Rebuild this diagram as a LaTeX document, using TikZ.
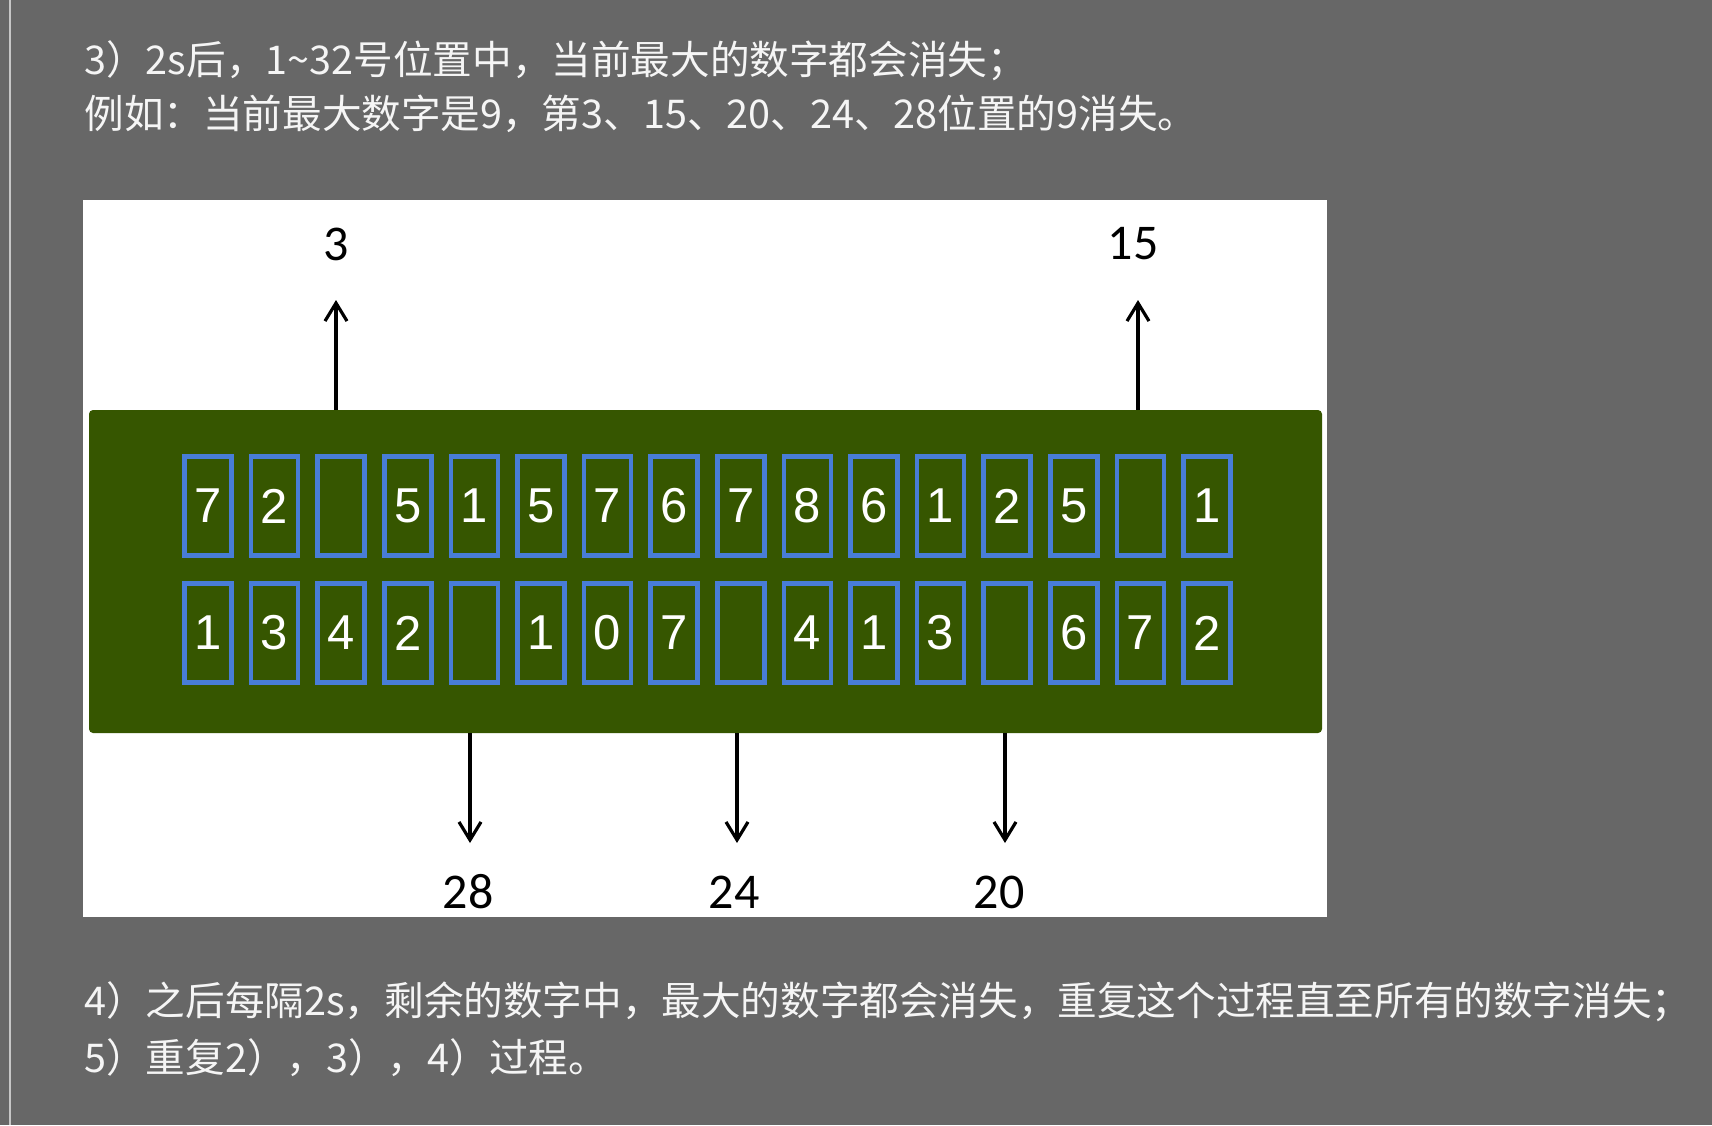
\documentclass[tikz,border=0pt]{standalone}
\usepackage{fontspec}
\setmainfont{Liberation Sans}
\newfontfamily\cjk{Noto Sans CJK SC}
\newfontfamily\lcdfont{Liberation Sans}
\newfontfamily\tagfont{Carlito}
\usetikzlibrary{positioning,arrows.meta}
\definecolor{bggray}{RGB}{103,103,103}
\definecolor{lcdgreen}{RGB}{54,86,0}
\definecolor{cellblue}{RGB}{72,125,215}
\definecolor{txtwhite}{RGB}{245,245,245}
\tikzset{
	cell/.style={draw=cellblue, line width=2.3pt, minimum width=23.5pt, minimum height=49.5pt, inner sep=0pt, text=white, font=\lcdfont\fontsize{24.5pt}{24.5pt}\selectfont},
	numtag/.style={inner sep=0pt, font=\tagfont\fontsize{25pt}{25pt}\selectfont},
	textline/.style={anchor=west, inner sep=0pt, text=txtwhite, font=\cjk\fontsize{19.8pt}{19.8pt}\selectfont},
	arrowline/.style={line width=1.6pt, -{Straight Barb[length=9pt,width=11pt]}}
}

\begin{document}
\begin{tikzpicture}[x=0.5pt,y=-0.5pt]
				\useasboundingbox (0,0) rectangle (1712,1125);
				\fill[bggray] (0,0) rectangle (1712,1125);
				\draw[gray!45, line width=1pt] (10,0) -- (10,1125);
				\node[textline] (s3) at (84,61) {3）2s后，1\textasciitilde 32号位置中，当前最大的数字都会消失；};
				\node[textline] (eg) at (84,114) {例如：当前最大数字是9，第3、15、20、24、28位置的9消失。};
				\fill[white] (83,200) rectangle (1327,917);
				\node[fill=lcdgreen, inner sep=0pt, rounded corners=2pt, minimum width=616.5pt, minimum height=161.5pt] (lcd) at (705.5,571.5) {};
				% top row
				\node[cell] (t1) at (208,506) {7};
				\node[cell] (t2) at (274.6,506) {2};
				\node[cell] (t3) at (341.2,506) {};
				\node[cell] (t4) at (407.8,506) {5};
				\node[cell] (t5) at (474.4,506) {1};
				\node[cell] (t6) at (541,506) {5};
				\node[cell] (t7) at (607.6,506) {7};
				\node[cell] (t8) at (674.2,506) {6};
				\node[cell] (t9) at (740.8,506) {7};
				\node[cell] (t10) at (807.4,506) {8};
				\node[cell] (t11) at (874,506) {6};
				\node[cell] (t12) at (940.6,506) {1};
				\node[cell] (t13) at (1007.2,506) {2};
				\node[cell] (t14) at (1073.8,506) {5};
				\node[cell] (t15) at (1140.4,506) {};
				\node[cell] (t16) at (1207,506) {1};
				% bottom row
				\node[cell] (b1) at (208,633) {1};
				\node[cell] (b2) at (274.6,633) {3};
				\node[cell] (b3) at (341.2,633) {4};
				\node[cell] (b4) at (407.8,633) {2};
				\node[cell] (b5) at (474.4,633) {};
				\node[cell] (b6) at (541,633) {1};
				\node[cell] (b7) at (607.6,633) {0};
				\node[cell] (b8) at (674.2,633) {7};
				\node[cell] (b9) at (740.8,633) {};
				\node[cell] (b10) at (807.4,633) {4};
				\node[cell] (b11) at (874,633) {1};
				\node[cell] (b12) at (940.6,633) {3};
				\node[cell] (b13) at (1007.2,633) {};
				\node[cell] (b14) at (1073.8,633) {6};
				\node[cell] (b15) at (1140.4,633) {7};
				\node[cell] (b16) at (1207,633) {2};
				% labels and arrows
				\node[numtag] (n3) at (336,244) {3};
				\node[numtag] (n15) at (1133,244) {15};
				\node[numtag] (n28) at (468,892) {28};
				\node[numtag] (n24) at (734,892) {24};
				\node[numtag] (n20) at (999,892) {20};
				\coordinate (h3) at (336,300);
				\coordinate (h15) at (1138,300);
				\coordinate (h28) at (470,843);
				\coordinate (h24) at (737,843);
				\coordinate (h20) at (1005,843);
				\draw[arrowline] (lcd.north -| h3) -- (h3);
				\draw[arrowline] (lcd.north -| h15) -- (h15);
				\draw[arrowline] (lcd.south -| h28) -- (h28);
				\draw[arrowline] (lcd.south -| h24) -- (h24);
				\draw[arrowline] (lcd.south -| h20) -- (h20);
				\node[textline] (s4) at (84,1002) {4）之后每隔2s，剩余的数字中，最大的数字都会消失，重复这个过程直至所有的数字消失；};
				\node[textline] (s5) at (84,1058) {5）重复2），3），4）过程。};
\end{tikzpicture}
\end{document}
